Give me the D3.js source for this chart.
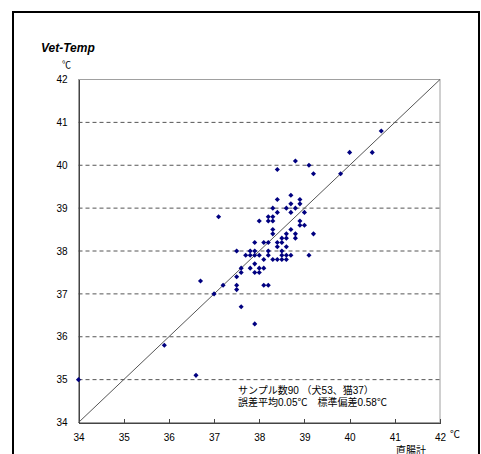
<!DOCTYPE html>
<html>
<head>
<meta charset="utf-8">
<style>
  body { margin: 0; background: #fff; }
  text { font-family: "Liberation Sans", Arial, "Noto Sans CJK JP", sans-serif; font-size: 10px; fill: #000; }
  .grid { stroke: #555; stroke-dasharray: 4,3; }
  .axis path, .axis line { stroke: #444; shape-rendering: crispEdges; }
  .title { font-size: 12px; font-weight: 900; font-style: italic; }
</style>
</head>
<body>
<div id="chart"></div>
<script src="https://d3js.org/d3.v7.min.js"></script>
<script>
// 直腸計 (x) vs Vet-Temp (y), ℃
const rectal = [34.0,35.9,36.6,36.7,37.0,37.2,37.5,37.5,37.5,37.6,37.6,37.6,37.9,37.1,37.5,37.7,37.8,37.8,37.9,38.0,
  38.1,38.0,38.1,38.2,37.8,37.9,38.0,38.2,38.5,38.6,38.7,39.1,38.1,38.3,38.4,38.5,38.6,38.2,38.5,37.9,
  38.1,38.2,38.4,38.5,38.4,38.6,38.5,38.6,38.8,38.3,38.6,38.8,39.2,38.3,38.7,38.9,39.0,38.9,38.0,38.2,
  38.3,38.2,38.3,38.4,38.7,39.0,38.3,38.6,38.8,38.7,38.9,38.4,38.9,38.7,38.4,38.8,39.1,39.2,39.8,40.0,
  40.5,40.7,37.9,37.9];
const vetTemp = [35.0,35.8,35.1,37.3,37.0,37.2,37.2,37.1,37.4,37.6,37.5,36.7,36.3,38.8,38.0,37.9,37.9,37.6,37.5,37.6,
  37.6,37.5,37.2,37.2,38.0,37.9,37.9,37.9,37.9,37.9,37.9,37.9,37.8,37.8,37.8,37.8,37.8,38.0,38.0,38.2,
  38.2,38.2,38.2,38.2,38.1,38.1,38.3,38.3,38.3,38.4,38.4,38.4,38.4,38.5,38.5,38.6,38.6,38.7,38.7,38.7,
  38.7,38.8,38.8,38.9,38.9,38.9,39.0,39.0,39.0,39.1,39.1,39.2,39.2,39.3,39.9,40.1,40.0,39.8,39.8,40.3,
  40.3,40.8,38.0,37.7];
const ticks = [34,35,36,37,38,39,40,41,42];
const gridLevels = [35,36,37,38,39,40,41];
const noteLines = ["サンプル数90 （犬53、猫37）", "誤差平均0.05℃　標準偏差0.58℃"];

const W = 481, H = 454;
const svg = d3.select("#chart").append("svg")
  .attr("width", W).attr("height", H);

svg.append("rect").attr("width", W).attr("height", H).attr("fill", "#fff");

// outer frame
svg.append("rect")
  .attr("x", 13).attr("y", 12).attr("width", 466).attr("height", 460)
  .attr("fill", "none").attr("stroke", "#000").attr("stroke-width", 2);

const x = d3.scaleLinear().domain([34, 42]).range([78.5, 440]);
const y = d3.scaleLinear().domain([34, 42]).range([422.5, 79.5]);

// plot border
svg.append("rect")
  .attr("x", x(34)).attr("y", y(42))
  .attr("width", x(42) - x(34)).attr("height", y(34) - y(42))
  .attr("fill", "none").attr("stroke", "#a0a0a0");

// dashed grid
svg.append("g").selectAll("line").data(gridLevels).enter().append("line")
  .attr("class", "grid")
  .attr("x1", x(34)).attr("x2", x(42))
  .attr("y1", d => y(d)).attr("y2", d => y(d));

// axes
svg.append("g").attr("class", "axis")
  .attr("transform", "translate(0," + y(34) + ")")
  .call(d3.axisBottom(x).tickValues(ticks).tickSizeInner(-4).tickSizeOuter(0).tickPadding(11).tickFormat(d3.format("d")))
  .call(g => g.selectAll("text").style("font-size", "10px").attr("fill", "#000"));

svg.append("g").attr("class", "axis")
  .attr("transform", "translate(" + x(34) + ",0)")
  .call(d3.axisLeft(y).tickValues(ticks).tickSize(0).tickPadding(11).tickFormat(d3.format("d")))
  .call(g => g.selectAll("text").style("font-size", "10px").attr("fill", "#000"));

// y = x reference line
svg.append("line")
  .attr("x1", x(34)).attr("y1", y(34))
  .attr("x2", x(42)).attr("y2", y(42))
  .attr("stroke", "#555").attr("stroke-width", 1);

// points
const pts = rectal.map((r, i) => ({ r: r, v: vetTemp[i] }));
svg.append("g").selectAll("path").data(pts).enter().append("path")
  .attr("d", d3.symbol().type(d3.symbolSquare).size(13))
  .attr("transform", d => "translate(" + x(d.r) + "," + y(d.v) + ") rotate(45)")
  .attr("fill", "#000080");

// titles and labels
svg.append("text").attr("class", "title").attr("x", 41).attr("y", 52).text("Vet-Temp");
svg.append("text").attr("x", 62).attr("y", 68).style("font-size", "9px").text("℃");
svg.append("text").attr("x", 450).attr("y", 438).text("℃");
svg.append("text").attr("x", 396).attr("y", 454).text("直腸計");

svg.append("g").selectAll("text").data(noteLines).enter().append("text")
  .attr("x", 238).attr("y", (d, i) => 394 + i * 12)
  .text(d => d);
</script>
</body>
</html>
